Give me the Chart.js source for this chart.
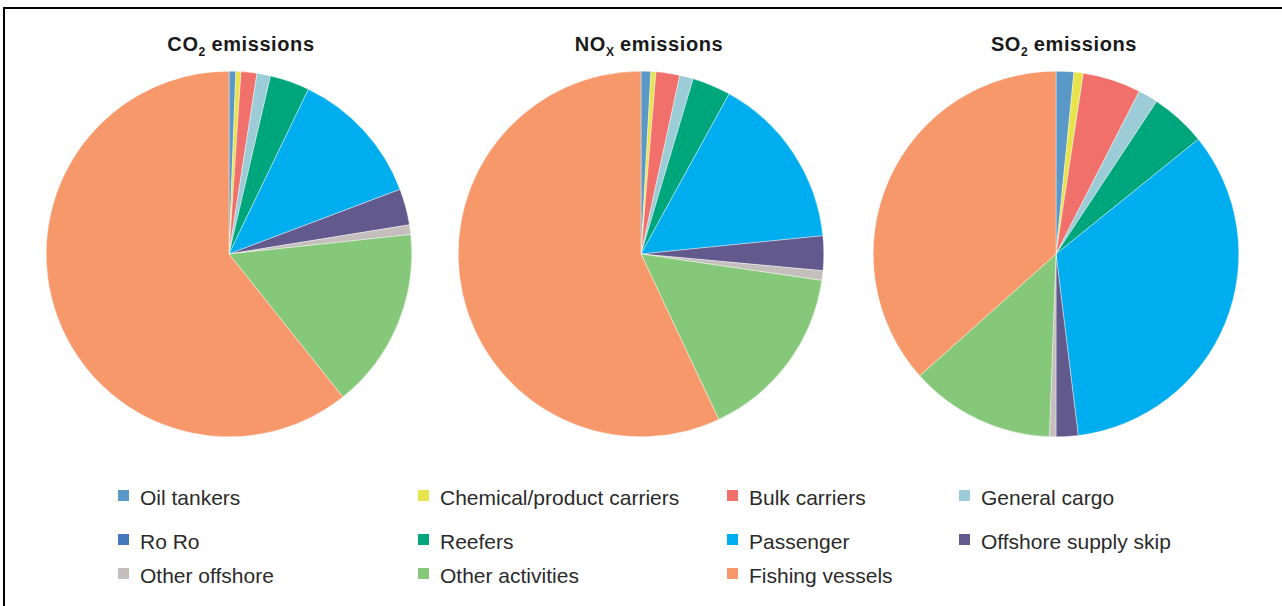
<!DOCTYPE html>
<html>
<head>
<meta charset="utf-8">
<script src="https://cdn.jsdelivr.net/npm/chart.js@4/dist/chart.umd.min.js"></script>
<style>
  body { margin: 0; background: #fff; }
  #wrap { position: relative; width: 1282px; height: 606px; overflow: hidden; font-family: "Liberation Sans", Arial, sans-serif; }
  #frame { position: absolute; left: 3px; top: 7px; width: 1290px; height: 640px; border: 2px solid #000; box-sizing: border-box; }
  .pie { position: absolute; top: 71px; width: 366px; height: 366px; }
  .title { position: absolute; top: 33px; width: 240px; text-align: center; font-weight: bold; font-size: 20px; color: #1a1a1a; letter-spacing: 0.6px; }
  .title sub { font-size: 12px; vertical-align: -5px; line-height: 0; letter-spacing: 0; }
  .item { position: absolute; font-size: 21px; color: #2b2b2b; white-space: nowrap; line-height: 1; }
  .box { position: absolute; width: 10.5px; height: 10.5px; }
</style>
</head>
<body>
<div id="wrap">
  <div id="frame"></div>
  <div class="title" style="left:121px">CO<sub>2</sub> emissions</div>
  <div class="title" style="left:529px">NO<sub>X</sub> emissions</div>
  <div class="title" style="left:944px">SO<sub>2</sub> emissions</div>
  <canvas id="c1" class="pie" style="left:46px"></canvas>
  <canvas id="c2" class="pie" style="left:458px"></canvas>
  <canvas id="c3" class="pie" style="left:873px"></canvas>
  <div id="legend"></div>
</div>
<script>
// ship categories (legend order = slice order, clockwise from 12 o'clock)
var categories = ["Oil tankers", "Chemical/product carriers", "Bulk carriers", "General cargo",
                  "Ro Ro", "Reefers", "Passenger", "Offshore supply skip",
                  "Other offshore", "Other activities", "Fishing vessels"];

var sliceColors = ["#5a98c7", "#e6e34c", "#f1706b", "#9bccd7",
                   "#4577be", "#00a67b", "#00aeef", "#625a8c",
                   "#c4bfbd", "#86c87a", "#f7986b"];

// share of emissions, %
var co2Values = [0.6, 0.45, 1.4, 1.2, 0, 3.5, 12.1, 3.2, 0.85, 16.0, 60.7];
var noxValues = [0.87, 0.44, 2.1, 1.2, 0, 3.4, 15.4, 3.05, 0.85, 15.7, 57.0];
var so2Values = [1.57, 0.82, 5.14, 1.75, 0, 4.92, 33.86, 1.94, 0.58, 12.82, 36.6];

function pie(id, values) {
  return new Chart(document.getElementById(id), {
    type: "pie",
    data: {
      labels: categories,
      datasets: [{
        data: values,
        backgroundColor: sliceColors,
        borderColor: "#ffffff",
        borderWidth: 0.4,
        hoverOffset: 0,
        offset: 0
      }]
    },
    options: {
      responsive: false,
      animation: false,
      events: [],
      layout: { padding: 0 },
      plugins: { legend: { display: false }, tooltip: { enabled: false } }
    }
  });
}

pie("c1", co2Values);
pie("c2", noxValues);
pie("c3", so2Values);

// legend: 4 columns, 3 rows
var colX = [118, 418, 727, 959];
var rowY = [490, 534, 568];
var legend = document.getElementById("legend");
categories.forEach(function(name, i) {
  var c = i % 4, r = Math.floor(i / 4);
  var box = document.createElement("div");
  box.className = "box";
  box.style.left = colX[c] + "px";
  box.style.top = rowY[r] + "px";
  box.style.background = sliceColors[i];
  legend.appendChild(box);
  var t = document.createElement("div");
  t.className = "item";
  t.style.left = (colX[c] + 22) + "px";
  t.style.top = (rowY[r] - 3) + "px";
  t.textContent = name;
  legend.appendChild(t);
});
</script>
</body>
</html>
